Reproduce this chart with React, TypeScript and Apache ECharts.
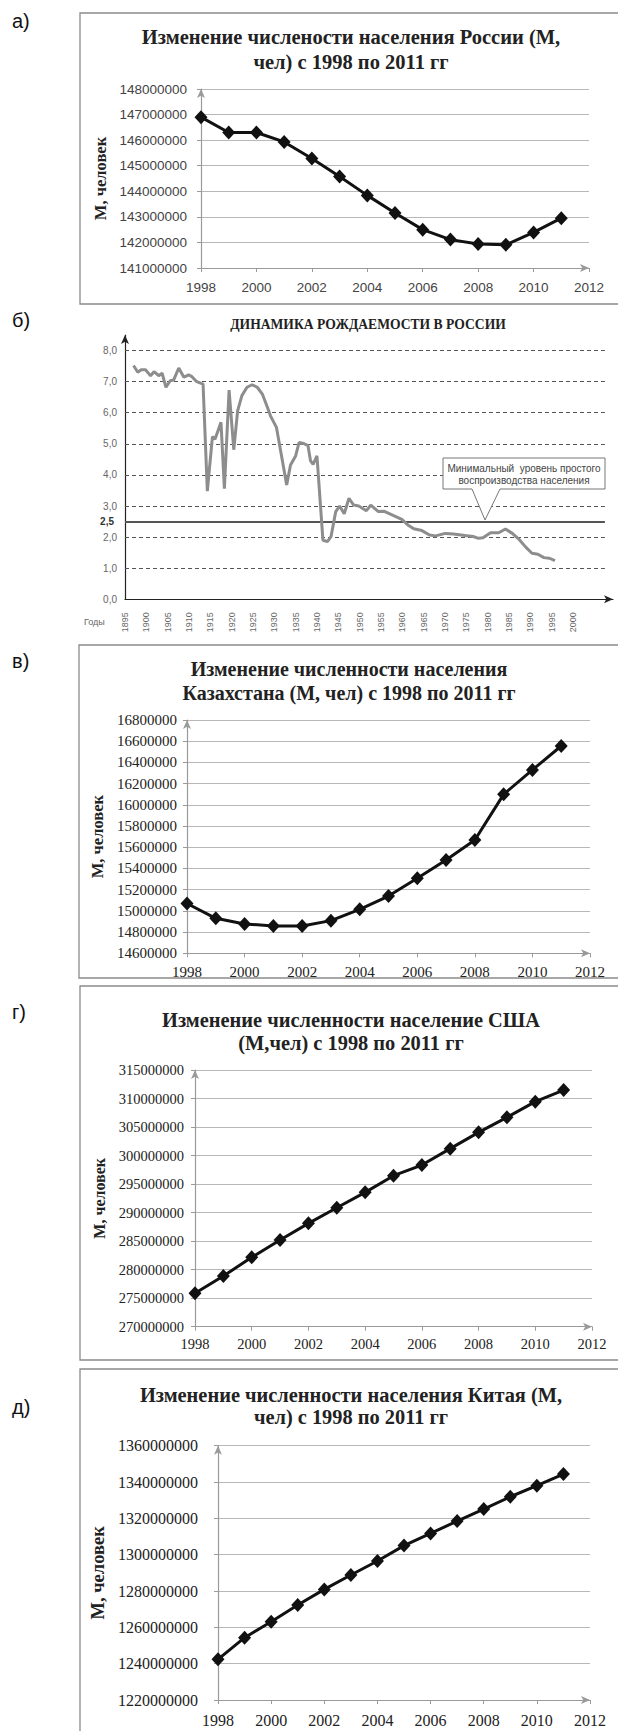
import React, { useEffect, useRef } from 'react';
import * as echarts from 'echarts';

// ---------- DATA ----------
const years = [1998, 1999, 2000, 2001, 2002, 2003, 2004, 2005, 2006, 2007, 2008, 2009, 2010, 2011];

const russiaPop = [146900000, 146300000, 146300000, 145930000, 145280000, 144580000, 143840000, 143150000, 142500000, 142110000, 141940000, 141910000, 142390000, 142950000];
const kazakhstanPop = [15070000, 14930000, 14877000, 14858000, 14858000, 14908000, 15015000, 15140000, 15307000, 15480000, 15668000, 16099000, 16329000, 16555000];
const usaPop = [275850000, 278880000, 282160000, 285200000, 288120000, 290860000, 293550000, 296470000, 298340000, 301210000, 304070000, 306700000, 309450000, 311490000];
const chinaPop = [1242400000, 1254300000, 1263100000, 1272300000, 1280900000, 1288800000, 1296500000, 1305000000, 1311700000, 1318500000, 1325100000, 1331900000, 1338000000, 1344400000];

const birthYears = [1897, 1898, 1898.8, 1899.8, 1901, 1901.8, 1902.9, 1903.7, 1904.6, 1905.6, 1906.4, 1907.6, 1908.8, 1909.9, 1910.7, 1911.7, 1913.3, 1914.3, 1915.5, 1916.1, 1917.5, 1918.3, 1919.4, 1920.5, 1921.4, 1922.4, 1923.6, 1924.8, 1926, 1927.2, 1928.4, 1929.1, 1930.5, 1931.7, 1932.9, 1933.8, 1935, 1935.8, 1936.9, 1937.9, 1938.5, 1939.1, 1940, 1941.4, 1942.5, 1943.3, 1944.4, 1945.3, 1946.4, 1947.5, 1948.6, 1949.8, 1951.6, 1952.6, 1954.4, 1955.8, 1958.1, 1959.9, 1961.3, 1962.7, 1964.6, 1966.4, 1967.8, 1970.1, 1972, 1974.7, 1976.6, 1977.9, 1978.9, 1980.7, 1982.6, 1984.2, 1985.8, 1987.5, 1989, 1990.4, 1991.8, 1993.2, 1994.5, 1995.8];
const birthRates = [7.52, 7.3, 7.38, 7.38, 7.19, 7.32, 7.19, 7.27, 6.82, 7.03, 7.05, 7.44, 7.14, 7.22, 7.16, 7.01, 6.92, 3.48, 5.23, 5.15, 5.69, 3.56, 6.73, 4.81, 6.06, 6.55, 6.82, 6.9, 6.82, 6.6, 6.17, 5.9, 5.53, 4.61, 3.68, 4.32, 4.61, 5.04, 5.01, 4.94, 4.45, 4.34, 4.61, 1.9, 1.86, 2.02, 2.82, 3.0, 2.75, 3.25, 3.03, 3.0, 2.85, 3.03, 2.82, 2.83, 2.68, 2.57, 2.39, 2.27, 2.21, 2.07, 2.04, 2.12, 2.1, 2.05, 2.02, 1.96, 1.98, 2.14, 2.14, 2.26, 2.12, 1.91, 1.67, 1.48, 1.45, 1.34, 1.32, 1.24];
const fertilityGridLevels = [1, 2, 3, 4, 5, 6, 7, 8];
const replacementLevel = 2.5;

const titles = [
  'Изменение численоcти населения России (М,\nчел) с 1998 по 2011 гг',
  'ДИНАМИКА РОЖДАЕМОСТИ В РОССИИ',
  'Изменение численности населения\nКазахстана (М, чел) с 1998 по 2011 гг',
  'Изменение численности население США\n(М,чел) с 1998 по 2011 гг',
  'Изменение численности населения Китая (М,\nчел) с 1998 по 2011 гг',
];
const panelLetters = ['а)', 'б)', 'в)', 'г)', 'д)'];
const yName = 'М, человек';
const annotationText = 'Минимальный  уровень простого\nвоспроизводства населения';

const SERIF = "'Liberation Serif', 'Times New Roman', serif";
const SANS = "'Liberation Sans', Arial, sans-serif";

export default function App() {
  const ref = useRef<HTMLDivElement>(null);

  useEffect(() => {
    if (!ref.current) return;
    const chart = echarts.init(ref.current, undefined, { renderer: 'svg' });

    const axisGray = '#9a9a9a';
    const gridGray = '#b8b8b8';
    const plain = (v: number) => String(v);

    const popX = (gridIndex: number, font: string, size: number, margin: number, color: string) => ({
      type: 'value', gridIndex, min: 1998, max: 2012, interval: 2,
      axisLine: { show: true, onZero: false, lineStyle: { color: axisGray, width: 1.2 }, symbol: ['none', 'arrow'], symbolSize: [6, 9] },
      axisTick: { show: true, length: 4, lineStyle: { color: axisGray } },
      axisLabel: { fontFamily: font, fontSize: size, color, margin, formatter: plain },
      splitLine: { show: false },
    });
    const popY = (gridIndex: number, min: number, max: number, interval: number, font: string, size: number, margin: number, color: string, nameGap: number, nameSize: number) => ({
      type: 'value', gridIndex, min, max, interval,
      name: yName, nameLocation: 'middle', nameRotate: 90, nameGap,
      nameTextStyle: { fontFamily: SERIF, fontWeight: 'bold', fontSize: nameSize, color: '#222' },
      axisLine: { show: true, lineStyle: { color: axisGray, width: 1.2 }, symbol: ['none', 'arrow'], symbolSize: [6, 9] },
      axisTick: { show: true, length: 4, lineStyle: { color: axisGray } },
      axisLabel: { fontFamily: font, fontSize: size, color, margin, formatter: plain },
      splitLine: { show: true, lineStyle: { color: gridGray, width: 1 } },
    });
    const popSeries = (idx: number, values: number[]) => ({
      type: 'line', xAxisIndex: idx, yAxisIndex: idx,
      data: years.map((y, k) => [y, values[k]]),
      symbol: 'diamond', symbolSize: [13, 14],
      lineStyle: { color: '#111', width: 3 },
      itemStyle: { color: '#111' },
      z: 3,
    });

    const titleStyle = (size: number, lh: number) => ({ fontFamily: SERIF, fontWeight: 'bold', fontSize: size, lineHeight: lh, color: '#222' });

    const boxes = [
      { x: 80, y: 13, h: 291 },
      { x: 79, y: 645, h: 333 },
      { x: 80, y: 986, h: 374 },
      { x: 80, y: 1369, h: 420 },
    ];
    const letterY = [21, 320, 661, 1012, 1407];

    const option: any = {
      animation: false,
      backgroundColor: '#ffffff',
      title: [
        { text: titles[0], left: 351, top: 24, textAlign: 'center', textVerticalAlign: 'top', padding: 0, textStyle: titleStyle(20.5, 25) },
        { text: titles[1], left: 368, top: 317, textAlign: 'center', textVerticalAlign: 'top', padding: 0, textStyle: titleStyle(13.6, 15) },
        { text: titles[2], left: 349, top: 657, textAlign: 'center', textVerticalAlign: 'top', padding: 0, textStyle: titleStyle(20, 24) },
        { text: titles[3], left: 351, top: 1008, textAlign: 'center', textVerticalAlign: 'top', padding: 0, textStyle: titleStyle(20.4, 23) },
        { text: titles[4], left: 351, top: 1384, textAlign: 'center', textVerticalAlign: 'top', padding: 0, textStyle: titleStyle(20.4, 22) },
      ],
      grid: [
        { left: 201, top: 89, width: 388, height: 179 },
        { left: 125, top: 335, width: 488, height: 264.3 },
        { left: 187, top: 720, width: 403, height: 233.3 },
        { left: 195, top: 1070, width: 397, height: 256.7 },
        { left: 218, top: 1445.7, width: 372, height: 254.3 },
      ],
      xAxis: [
        popX(0, SANS, 13.5, 12, '#444'),
        {
          type: 'value', gridIndex: 1, min: 1895, max: 2009.4, interval: 5,
          axisLine: { show: true, onZero: false, lineStyle: { color: '#222', width: 1.2 }, symbol: ['none', 'arrow'], symbolSize: [6, 9] },
          axisTick: { show: false },
          axisLabel: {
            rotate: 90, fontFamily: SANS, fontSize: 9, color: '#666', margin: 13,
            formatter: (v: number) => (v % 5 === 0 && v <= 2000 ? String(v) : ''),
          },
          splitLine: { show: false },
        },
        popX(2, SERIF, 15, 11, '#222'),
        popX(3, SERIF, 14.5, 10, '#222'),
        popX(4, SERIF, 16, 12, '#222'),
      ],
      yAxis: [
        popY(0, 141000000, 148000000, 1000000, SANS, 13.5, 14, '#444', 87, 16.5),
        {
          type: 'value', gridIndex: 1, min: 0, max: 8.5, interval: 1,
          axisLine: { show: true, lineStyle: { color: '#222', width: 1.2 }, symbol: ['none', 'arrow'], symbolSize: [6, 9] },
          axisTick: { show: false },
          axisLabel: {
            fontFamily: SANS, fontSize: 10, color: '#666', margin: 8,
            formatter: (v: number) => (v > 8 ? '' : v.toFixed(1).replace('.', ',')),
          },
          splitLine: { show: false },
        },
        popY(2, 14600000, 16800000, 200000, SERIF, 15, 10, '#222', 75, 16.5),
        popY(3, 270000000, 315000000, 5000000, SERIF, 14.5, 11, '#222', 83, 16),
        popY(4, 1220000000, 1360000000, 20000000, SERIF, 16, 20, '#222', 104, 18.5),
      ],
      series: [
        popSeries(0, russiaPop),
        {
          type: 'line', xAxisIndex: 1, yAxisIndex: 1,
          data: birthYears.map((y, k) => [y, birthRates[k]]),
          showSymbol: false, symbol: 'none',
          lineStyle: { color: '#8d8d8d', width: 3 },
          z: 3,
          markLine: {
            silent: true, symbol: 'none', z: 2,
            label: { show: false },
            lineStyle: { color: '#555', width: 1, type: [4, 3] },
            data: [
              ...fertilityGridLevels.map((v) => [{ coord: [1895, v] }, { coord: [2007.5, v] }]),
              [
                {
                  coord: [1895, replacementLevel],
                  lineStyle: { color: '#555', width: 2, type: 'solid' },
                  label: { show: true, position: 'start', formatter: '2,5', fontFamily: SANS, fontSize: 10, fontWeight: 'bold', color: '#333', distance: 11 },
                },
                { coord: [2007.5, replacementLevel] },
              ],
            ],
          },
        },
        popSeries(2, kazakhstanPop),
        popSeries(3, usaPop),
        popSeries(4, chinaPop),
      ],
      graphic: [
        ...boxes.map((b) => ({
          type: 'rect', shape: { x: b.x, y: b.y, width: 620 - b.x, height: b.h },
          style: { fill: 'none', stroke: '#8a8a8a', lineWidth: 1.3 }, silent: true, z: 0,
        })),
        ...panelLetters.map((t, i) => ({
          type: 'text', x: 12, y: letterY[i],
          style: { text: t, fontFamily: SANS, fontSize: 20, fill: '#111', textVerticalAlign: 'middle' },
          silent: true,
        })),
        {
          type: 'text', x: 84, y: 622,
          style: { text: 'Годы', fontFamily: SANS, fontSize: 9, fill: '#666', textVerticalAlign: 'middle' },
          silent: true,
        },
        {
          type: 'polygon',
          shape: { points: [[443, 458], [605, 458], [605, 489], [500, 489], [485, 520], [472, 489], [443, 489]] },
          style: { fill: '#fff', stroke: '#777', lineWidth: 1 }, z: 10, silent: true,
        },
        {
          type: 'text', x: 524, y: 474, z: 11,
          style: { text: annotationText, fontFamily: SANS, fontSize: 10, lineHeight: 12, fill: '#444', textAlign: 'center', textVerticalAlign: 'middle' },
          silent: true,
        },
      ],
    };

    chart.setOption(option);
    return () => chart.dispose();
  }, []);

  return <div ref={ref} style={{ position: 'absolute', left: 0, top: 0, width: 618, height: 1731 }} />;
}
